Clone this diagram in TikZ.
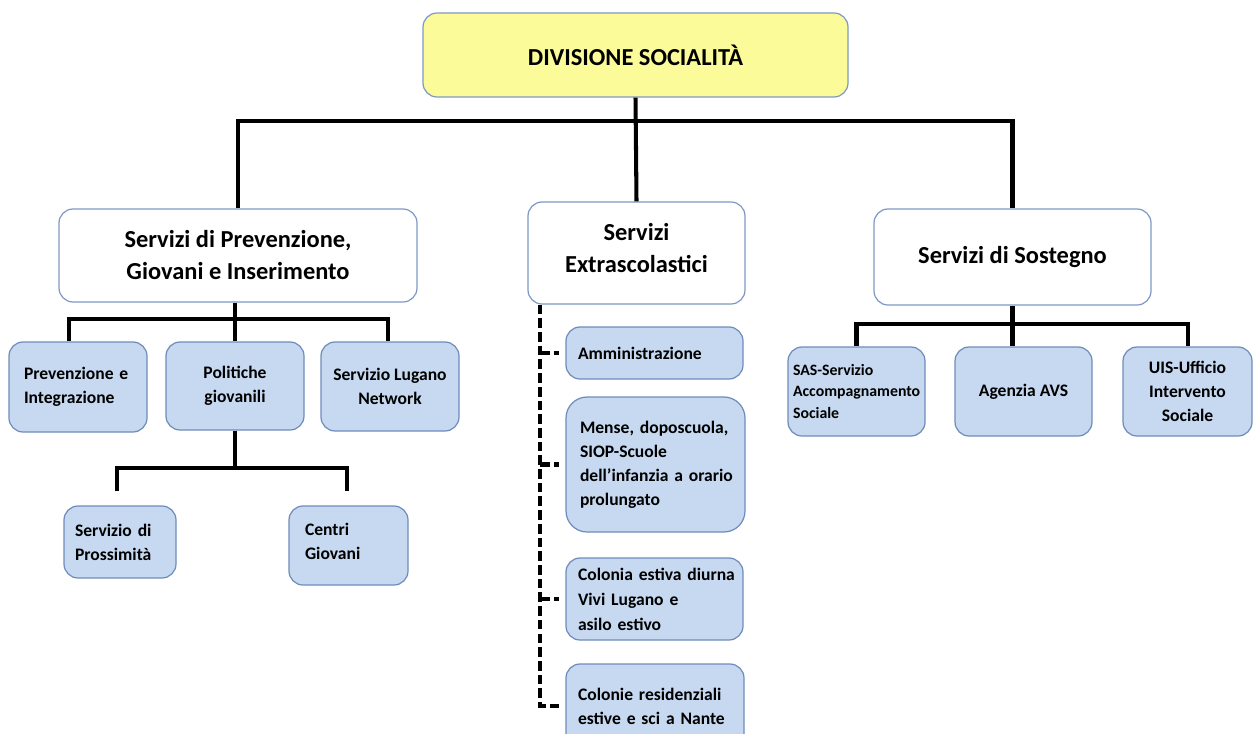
\documentclass[tikz,border=0pt]{standalone}
\usepackage{fontspec}
\setmainfont{Carlito}
\usetikzlibrary{calc}
\def\px{0.02cm}
\definecolor{yel}{HTML}{FBFB9A}
\definecolor{lblue}{HTML}{C6D9F0}
\definecolor{bord}{HTML}{6F8CBB}
\definecolor{bordt}{HTML}{7F99C4}
\begin{document}
\begin{tikzpicture}[x=0.02cm,y=-0.02cm,
 conn/.style={line width=2.3pt, draw=black},
 dconn/.style={line width=2.3pt, draw=black, dash pattern=on 5.5pt off 2.3pt},
 big/.style={draw=bordt, line width=0.7pt, rounded corners=8pt, fill=white, font=\bfseries\fontsize{13.9}{18.2}\selectfont, align=center, inner sep=0pt},
 small/.style={draw=bord, line width=0.7pt, rounded corners=8pt, fill=lblue, font=\bfseries\fontsize{10}{13.6}\selectfont, inner ysep=0pt},
 wh/.style 2 args={minimum width=#1*\px, minimum height=#2*\px},
]
\useasboundingbox (0,0) rectangle (1253,733);
% level 0
\node[big, fill=yel, wh={425}{84}] (top) at (635.5,55) {DIVISIONE SOCIALITÀ};
% level 1
\node[big, wh={358}{93}] (L1) at (238,255.5) {Servizi di Prevenzione,\\Giovani e Inserimento};
\node[big, wh={217}{102}] (M1) at (636.5,253) {Servizi\\Extrascolastici\\[-12pt]\mbox{}};
\node[big, wh={277}{96}] (R1) at (1012.5,257) {Servizi di Sostegno};
% left children
\node[small, wh={138}{90}, align=left, text width=2.16cm, inner xsep=0.3cm] (pi) at (78,387) {Prevenzione e\\Integrazione};
\node[small, wh={138}{88}, align=center] (pg) at (235,386) {Politiche\\giovanili};
\node[small, wh={138}{89}, align=center] (ln) at (390,386.5) {Servizio Lugano\\Network};
\node[small, wh={112}{72}, align=left, text width=1.8cm, inner xsep=0.22cm] (px) at (120,542) {Servizio di\\Prossimità};
\node[small, wh={119}{79}, align=left, text width=1.74cm, inner xsep=0.32cm] (cg) at (348.5,545.5) {Centri\\Giovani\\[-9pt]\mbox{}};
% middle children
\node[small, wh={177}{52}, align=left, text width=3.06cm, inner xsep=0.24cm] (am) at (654.5,353) {Amministrazione};
\node[small, rounded corners=12pt, wh={179}{135}, align=left, text width=3.02cm, inner xsep=0.28cm] (ms) at (655.5,464.5) {Mense, doposcuola,\\SIOP-Scuole\\\mbox{dell’infanzia a orario}\\prolungato};
\node[small, wh={177}{82}, align=left, text width=3.06cm, inner xsep=0.24cm, font=\bfseries\fontsize{10}{14.2}\selectfont] (ce) at (654.5,599) {\mbox{Colonia estiva diurna}\\Vivi Lugano e\\asilo estivo};
\node[small, wh={178}{84}, align=left, text width=3.08cm, inner xsep=0.24cm] (cr) at (655,706) {\mbox{Colonie residenziali}\\\mbox{estive e sci a Nante}};
% right children
\node[small, wh={137}{89}, align=left, text width=2.54cm, inner xsep=0.1cm, font=\bfseries\fontsize{9}{12.2}\selectfont] (sas) at (856.5,391.5) {SAS-Servizio\\Accompagnamento\\Sociale};
\node[small, wh={137}{89}, align=center] (avs) at (1023.5,391.5) {Agenzia AVS};
\node[small, wh={129}{89}, align=center] (uis) at (1187.5,391.5) {UIS-Ufficio\\Intervento\\Sociale};
% connectors top
\draw[conn] (top.south) -- (M1.north);
\draw[conn] (L1.north) -- ++(0,-87) -| (R1.north);
% left connectors
\draw[conn] (pg.north) -- (pg.north |- L1.south);
\draw[conn] ([xshift=-9*\px]pi.north) -- ++(0,-22) -| ([xshift=-2*\px]ln.north);
\coordinate (pgb) at ($(pg.south)+(0,37)$);
\draw[conn] (pg.south) -- (pgb);
\draw[conn] ([xshift=-3*\px,yshift=14*\px]px.north) |- (pgb) -| ([xshift=-1.5*\px,yshift=14*\px]cg.north);
% middle dashed
\coordinate (dx) at ([xshift=13*\px]M1.south west);
\draw[dconn] (dx) |- ([xshift=-6*\px]cr.west);
\foreach \n in {am,ms,ce} \draw[dconn] (dx |- \n.west) -- ([xshift=-6*\px]\n.west);
% right connectors
\draw[conn] (R1.south) -- (R1.south |- avs.north);
\draw[conn] (sas.north) -- ++(0,-22) -| (uis.north);
\end{tikzpicture}
\end{document}
